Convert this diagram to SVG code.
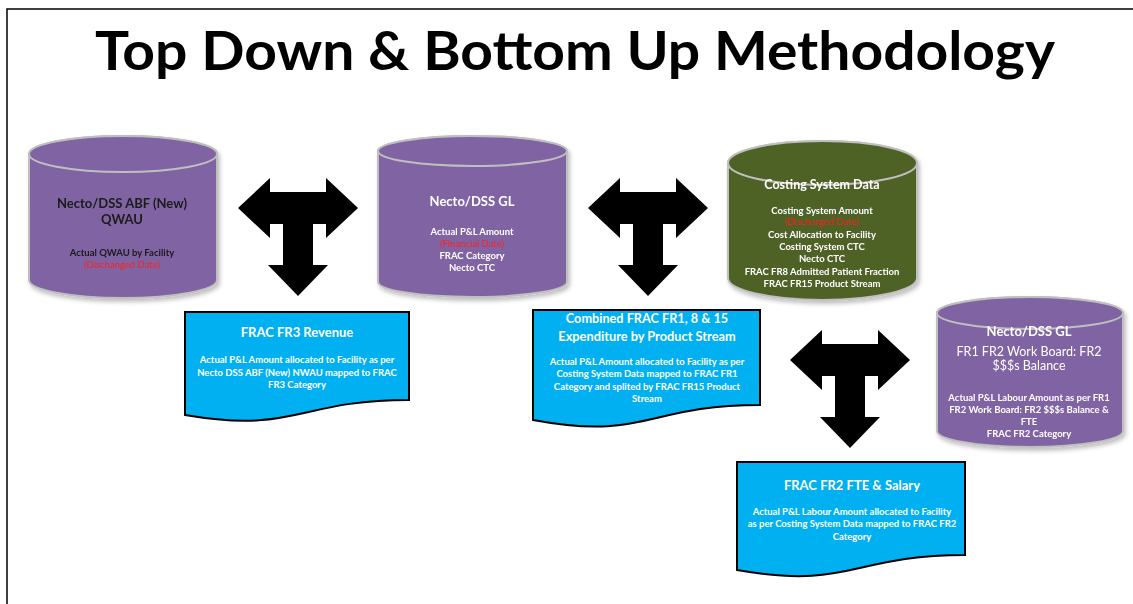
<svg xmlns="http://www.w3.org/2000/svg" width="1133" height="604" viewBox="0 0 1133 604">
<style>
.t{font-family:Lato,"Open Sans","Liberation Sans",sans-serif;font-weight:bold;text-anchor:middle}
.h{font-size:13px}
.s{font-size:9.5px}
.w{fill:#fff}
.d{fill:#1a1a1a}
.r{fill:#ff1f1f;font-weight:normal}
.cyl{stroke:#bfbfbf;stroke-width:2}
.p{fill:#8064a2}
.g{fill:#4f6228}
.doc{fill:#00b0f0;stroke:#000;stroke-width:2}
</style>
<defs>
<filter id="sh" x="-10%" y="-10%" width="130%" height="130%">
<feDropShadow dx="2" dy="3" stdDeviation="2" flood-color="#000" flood-opacity="0.25"/>
</filter>
<path id="tarrow" d="M-60,0 L-28,-30 L-28,-16 L28,-16 L28,-30 L60,0 L28,30 L28,16 L15,16 L15,57 L30,57 L0,88 L-30,57 L-15,57 L-15,16 L-28,16 L-28,30 Z" fill="#000"/>
</defs>
<rect x="0" y="0" width="1133" height="604" fill="#fff"/>
<rect x="7" y="9" width="1150" height="640" fill="none" stroke="#000" stroke-width="1.5"/>
<text x="575" y="70" font-family="Lato,'Open Sans','Liberation Sans',sans-serif" font-weight="bold" font-size="53" text-anchor="middle" textLength="960" lengthAdjust="spacingAndGlyphs" fill="#000">Top Down &amp; Bottom Up Methodology</text>

<g id="cyl-abf" filter="url(#sh)">
<path class="cyl p" d="M29,154 A94,18 0 0 1 217,154 L217,280 A94,18 0 0 1 29,280 Z"/>
<ellipse class="cyl p" cx="123" cy="154" rx="94" ry="18"/>
<text class="t d" x="122" y="208" font-size="13">Necto/DSS ABF (New)</text>
<text class="t d" x="122" y="224" font-size="13">QWAU</text>
<text class="t d s" x="122" y="256">Actual QWAU by Facility</text>
<text class="t s r" x="122" y="268">(Dischanged Date)</text>
</g>

<g id="cyl-gl" filter="url(#sh)">
<path class="cyl p" d="M378,151 A94.5,15 0 0 1 567,151 L567,282 A94.5,15 0 0 1 378,282 Z"/>
<ellipse class="cyl p" cx="472.5" cy="151" rx="94.5" ry="15"/>
<text class="t w" x="472" y="206" font-size="13">Necto/DSS GL</text>
<text class="t w s" x="472" y="235">Actual P&amp;L Amount</text>
<text class="t s r" x="472" y="247">(Financial Date)</text>
<text class="t w s" x="472" y="259">FRAC Category</text>
<text class="t w s" x="472" y="271">Necto CTC</text>
</g>

<g id="cyl-costing" filter="url(#sh)">
<path class="cyl g" d="M728,163 A94.5,22 0 0 1 917,163 L917,278 A94.5,22 0 0 1 728,278 Z"/>
<ellipse class="cyl g" cx="822.5" cy="163" rx="94.5" ry="22"/>
<text class="t w" x="822" y="189" font-size="12.5">Costing System Data</text>
<text class="t w s" x="822" y="214">Costing System Amount</text>
<text class="t s r" x="822" y="225">(Discharged Date)</text>
<text class="t w s" x="822" y="238">Cost Allocation to Facility</text>
<text class="t w s" x="822" y="250">Costing  System CTC</text>
<text class="t w s" x="822" y="262">Necto CTC</text>
<text class="t w s" x="822" y="275">FRAC FR8 Admitted Patient Fraction</text>
<text class="t w s" x="822" y="287">FRAC FR15 Product Stream</text>
</g>

<g id="cyl-gl2" filter="url(#sh)">
<path class="cyl p" d="M937,313 A93,16 0 0 1 1123,313 L1123,431 A93,16 0 0 1 937,431 Z"/>
<ellipse class="cyl p" cx="1030" cy="313" rx="93" ry="16"/>
<text class="t w" x="1029" y="336" font-size="13">Necto/DSS GL</text>
<text class="w" x="1029" y="356" font-family="Lato,'Open Sans','Liberation Sans',sans-serif" font-size="12.5" text-anchor="middle">FR1 FR2 Work Board: FR2</text>
<text class="w" x="1029" y="370" font-family="Lato,'Open Sans','Liberation Sans',sans-serif" font-size="12.5" text-anchor="middle">$$$s Balance</text>
<text class="t w s" x="1029" y="401">Actual P&amp;L Labour Amount as per FR1</text>
<text class="t w s" x="1029" y="413">FR2 Work Board: FR2 $$$s Balance &amp;</text>
<text class="t w s" x="1029" y="425">FTE</text>
<text class="t w s" x="1029" y="437">FRAC FR2 Category</text>
</g>

<g id="doc-fr3">
<path class="doc" d="M185,312 H409 V400 C297,400 297,434 185,415 Z"/>
<text class="t w h" x="297" y="337">FRAC FR3 Revenue</text>
<text class="t w s" x="297" y="363">Actual P&amp;L Amount  allocated to Facility as per</text>
<text class="t w s" x="297" y="376">Necto DSS ABF (New) NWAU mapped to FRAC</text>
<text class="t w s" x="297" y="388">FR3 Category</text>
</g>

<g id="doc-fr1">
<path class="doc" d="M533,310 H760 V405 C646.5,405 646.5,441 533,420 Z"/>
<text class="t w" x="647" y="323" font-size="12.7">Combined FRAC FR1, 8 &amp; 15</text>
<text class="t w" x="647" y="341" font-size="12.8">Expenditure by Product Stream</text>
<text class="t w s" x="647" y="365">Actual P&amp;L Amount allocated to Facility as per</text>
<text class="t w s" x="647" y="377">Costing System Data mapped to FRAC FR1</text>
<text class="t w s" x="647" y="390">Category and splited by FRAC FR15 Product</text>
<text class="t w s" x="647" y="402">Stream</text>
</g>

<g id="doc-fr2">
<path class="doc" d="M737,462 H965 V555 C851,555 851,590 737,570 Z"/>
<text class="t w h" x="852" y="490">FRAC FR2 FTE &amp; Salary</text>
<text class="t w s" x="852" y="515">Actual P&amp;L Labour Amount allocated to Facility</text>
<text class="t w s" x="852" y="527">as per Costing System Data  mapped to FRAC FR2</text>
<text class="t w s" x="852" y="540">Category</text>
</g>

<g id="connectors">
<use href="#tarrow" transform="translate(298,208)"/>
<use href="#tarrow" transform="translate(648,208)"/>
<use href="#tarrow" transform="translate(850,360)"/>
</g>
</svg>
